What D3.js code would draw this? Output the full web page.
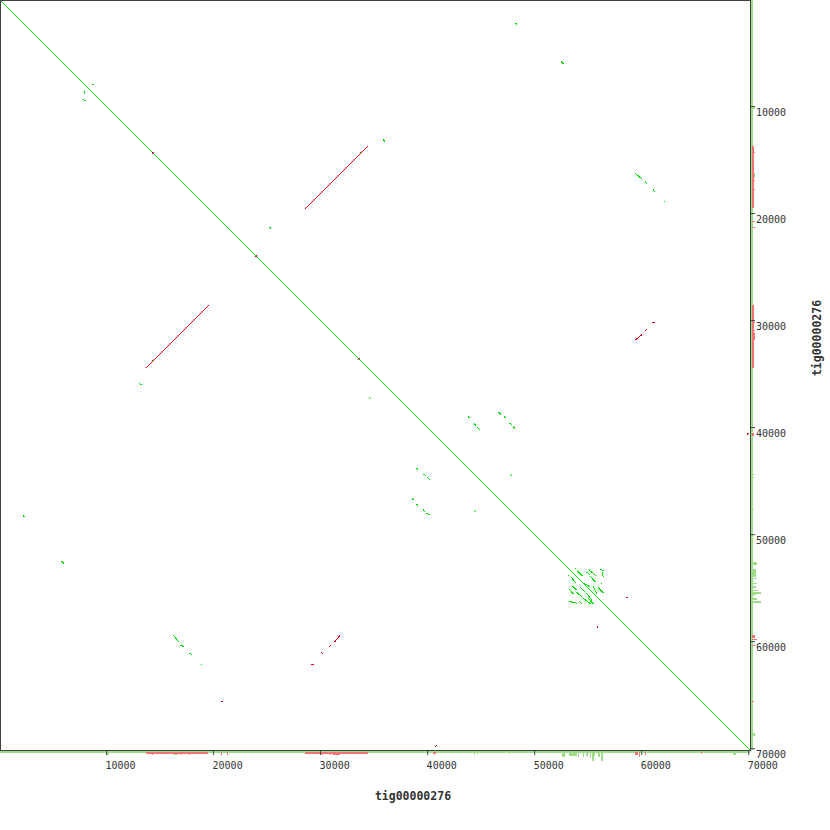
<!DOCTYPE html>
<html><head><meta charset="utf-8">
<script src="https://cdn.jsdelivr.net/npm/d3@7"></script>
<style>body{margin:0;background:#fff}svg{display:block}</style>
</head><body><svg id="c" width="830" height="830"></svg>
<script>
const seqName = "tig00000276";
const seqLength = 70120;
const tickValues = [10000, 20000, 30000, 40000, 50000, 60000, 70000];

// forward hits [xStart, yStart, xEnd, yEnd]
const forwardHits = [
  [0, 0, 70080, 70080],
  [8640, 7900, 8830, 7930], [7920, 8640, 7930, 8830], [7880, 9390, 8060, 9400],
  [35920, 13080, 35930, 13270], [25250, 21280, 25350, 21380], [13080, 35920, 13270, 35930],
  [48230, 2200, 48320, 2290], [52480, 5800, 52670, 5990],
  [59400, 16240, 60000, 16740], [60340, 16990, 60440, 17210], [61080, 17770, 61180, 17990], [62100, 18840, 62180, 18920],
  [16240, 59400, 16740, 60000], [16960, 60340, 17170, 60440], [17730, 61080, 17920, 61180], [18840, 62100, 18920, 62180],
  [2200, 48230, 2290, 48320], [5800, 52480, 5990, 52670],
  [33690, 14240, 33790, 14340], [14240, 33690, 14340, 33790],
  [43780, 38980, 43870, 39070], [44360, 39590, 44490, 39820], [44640, 39970, 44830, 40160],
  [46670, 38570, 46830, 38730], [47140, 38980, 47230, 39070], [47630, 39590, 47850, 39690], [48010, 39880, 48140, 40100],
  [38980, 43780, 39070, 43870], [39590, 44360, 39780, 44450], [39970, 44640, 40160, 44830],
  [47730, 44360, 47850, 44490], [38570, 46670, 38660, 46760], [38980, 47140, 39070, 47230],
  [39590, 47630, 39690, 47820], [39880, 48010, 40160, 48100], [44360, 47730, 44490, 47850],
  [34570, 37190, 34660, 37280],
  [53770, 53120, 53860, 53210], [54050, 53460, 54490, 53860], [53120, 53750, 53210, 53840],
  [53460, 54020, 53770, 54450], [55110, 53240, 55200, 53490], [54860, 53520, 55110, 53680],
  [55330, 53490, 55730, 53860], [56200, 53240, 56410, 53370], [56320, 53550, 56410, 53930],
  [55240, 53930, 55640, 54390], [54640, 54560, 55170, 54880], [53520, 54800, 53930, 55170],
  [53240, 55110, 53610, 55520], [54240, 54920, 54700, 55330], [53930, 55390, 54400, 55790],
  [55480, 54860, 55800, 55480], [55940, 54960, 56410, 55420], [56180, 54520, 56270, 54610],
  [54860, 55480, 55330, 56100], [54540, 55950, 55170, 56420], [53300, 56260, 53930, 56410],
  [54170, 56260, 54390, 56410], [55010, 55950, 55480, 56480]
];

// reverse hits [xStart, yStart, xEnd, yEnd]
const reverseHits = [
  [28590, 19527, 34382, 13734],
  [13734, 34382, 19527, 28590],
  [59400, 31810, 60000, 31340], [60330, 30950, 60420, 30860], [61010, 30160, 61200, 30160],
  [31810, 59400, 31340, 60000], [30950, 60330, 30860, 60420], [29170, 62110, 29360, 62110],
  [30110, 61010, 30200, 61100], [20760, 65630, 20830, 65560],
  [58580, 55830, 58720, 55830], [55860, 58580, 55860, 58720],
  [40690, 69860, 40870, 69670], [69860, 40640, 69950, 40550],
  [14270, 14360, 14360, 14270], [21270, 21360, 21360, 21270], [23940, 24030, 24030, 23940], [33550, 33640, 33640, 33550]
];

// coverage tracks [start, end, depth]
const forwardCoverage = [
  [0, 70120, 1], [9950, 10240, 2], [16240, 16650, 2],
  [44330, 44400, 2], [44600, 44700, 1.5], [47600, 47680, 1.5],
  [52520, 52800, 2.8], [53230, 53930, 2.5], [54030, 54190, 3], [54500, 54620, 3],
  [54820, 54990, 2.5], [55140, 55310, 3.3], [55400, 55500, 5], [55560, 55680, 2.5],
  [55930, 56090, 3], [56240, 56340, 5], [68540, 68820, 2]
];
const reverseCoverage = [
  [13710, 19510, 1], [28540, 34400, 1],
  [14280, 14360, 1.5], [16850, 16930, 1.5], [17730, 17810, 1.5],
  [30150, 30230, 1.5], [30860, 30940, 1.5], [31150, 31810, 1.5],
  [20690, 20770, 1.5], [21290, 21370, 1.5],
  [40500, 40780, 1], [59370, 59650, 1.5], [59790, 59870, 2.5], [60310, 60390, 1.5], [65540, 65620, 1]
];

const svg = d3.select("#c");
const x = d3.scaleLinear().domain([0, seqLength]).range([-0.5, 750]);
const y = d3.scaleLinear().domain([0, seqLength]).range([-0.5, 750]);
const depth = d3.scaleLinear().domain([0, 1]).range([0, 2]);

const fwdCol = "#00e000", revCol = "#e00010";
const fwdCov = "#9ddc8a", revCov = "#f77272";

// coverage - bottom
const cb = svg.append("g").attr("transform", "translate(0,751)").attr("shape-rendering", "crispEdges");
cb.selectAll("rect.f").data(forwardCoverage).join("rect").attr("class", "f")
  .attr("x", d => x(d[0])).attr("width", d => Math.max(1, x(d[1]) - x(d[0])))
  .attr("y", 0).attr("height", d => depth(d[2])).attr("fill", fwdCov);
const cb2 = svg.append("g").attr("transform", "translate(0,752)").attr("shape-rendering", "crispEdges");
cb2.selectAll("rect.r").data(reverseCoverage).join("rect").attr("class", "r")
  .attr("x", d => x(d[0])).attr("width", d => Math.max(1, x(d[1]) - x(d[0])))
  .attr("y", 0).attr("height", d => depth(d[2])).attr("fill", revCov);
// coverage - right
const cr = svg.append("g").attr("transform", "translate(751,0)").attr("shape-rendering", "crispEdges");
cr.selectAll("rect.f").data(forwardCoverage).join("rect").attr("class", "f")
  .attr("y", d => y(d[0])).attr("height", d => Math.max(1, y(d[1]) - y(d[0])))
  .attr("x", 0).attr("width", d => depth(d[2])).attr("fill", fwdCov);
const cr2 = svg.append("g").attr("transform", "translate(752,0)").attr("shape-rendering", "crispEdges");
cr2.selectAll("rect.r").data(reverseCoverage).join("rect").attr("class", "r")
  .attr("y", d => y(d[0])).attr("height", d => Math.max(1, y(d[1]) - y(d[0])))
  .attr("x", 0).attr("width", d => depth(d[2])).attr("fill", revCov);

// hits
const hits = svg.append("g").attr("shape-rendering", "crispEdges").attr("stroke-width", 1).attr("stroke-linecap", "square");
hits.selectAll("line.f").data(forwardHits).join("line").attr("class", "f")
  .attr("x1", d => x(d[0])).attr("y1", d => y(d[1])).attr("x2", d => x(d[2])).attr("y2", d => y(d[3]))
  .attr("stroke", fwdCol);
hits.selectAll("line.r").data(reverseHits).join("line").attr("class", "r")
  .attr("x1", d => x(d[0])).attr("y1", d => y(d[1])).attr("x2", d => x(d[2])).attr("y2", d => y(d[3]))
  .attr("stroke", revCol);

// frame
svg.append("rect").attr("x", 0.5).attr("y", 0.5).attr("width", 750).attr("height", 750)
  .attr("fill", "none").attr("stroke", "#404040");

// axes
const ax = svg.append("g").attr("transform", "translate(0,750)")
  .call(d3.axisBottom(x).tickValues(tickValues).tickFormat(d3.format("d")).tickSize(5).tickSizeOuter(0).offset(0));
ax.select(".domain").remove();
ax.attr("font-family", "DejaVu Sans Mono").attr("font-size", 10).attr("color", "#404040");
ax.selectAll("text").attr("text-anchor", "start").attr("x", -1).attr("y", 18.5).attr("dy", null).attr("fill", "#333");

const ay = svg.append("g").attr("transform", "translate(750,0)")
  .call(d3.axisRight(y).tickValues(tickValues).tickFormat(d3.format("d")).tickSize(5).tickSizeOuter(0).offset(0));
ay.select(".domain").remove();
ay.attr("font-family", "DejaVu Sans Mono").attr("font-size", 10).attr("color", "#404040");
ay.selectAll("text").attr("x", 6).attr("y", 9.5).attr("dy", null).attr("fill", "#333");

// titles
svg.append("text").attr("x", 413).attr("y", 800).attr("text-anchor", "middle")
  .attr("font-family", "DejaVu Sans Mono").attr("font-weight", "bold").attr("font-size", 11.5).attr("fill", "#333")
  .text(seqName);
svg.append("text").attr("transform", "translate(821,338) rotate(-90)").attr("text-anchor", "middle")
  .attr("font-family", "DejaVu Sans Mono").attr("font-weight", "bold").attr("font-size", 11.5).attr("fill", "#333")
  .text(seqName);
</script></body></html>
